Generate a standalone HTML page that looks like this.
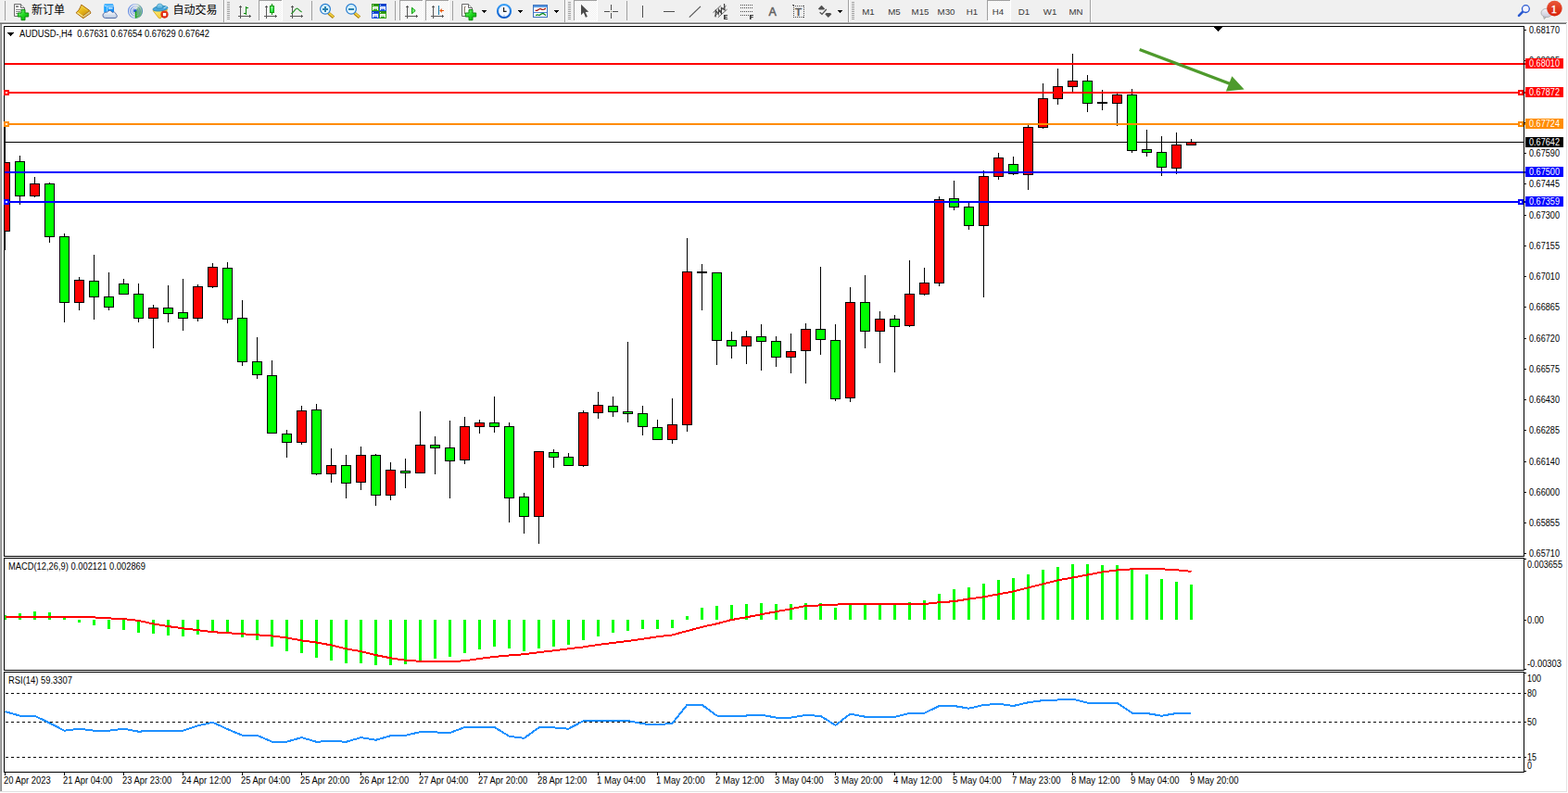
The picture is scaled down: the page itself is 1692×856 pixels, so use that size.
<!DOCTYPE html>
<html><head><meta charset="utf-8"><title>AUDUSD H4</title>
<style>html,body{margin:0;padding:0;background:#fff;overflow:hidden}body{width:1692px;height:856px}text{font-family:"Liberation Sans",sans-serif}</style></head>
<body>
<svg width="1692" height="856" viewBox="0 0 1692 856" font-family="Liberation Sans, sans-serif" style="display:block">
<defs><pattern id="ck" width="2" height="2" patternUnits="userSpaceOnUse"><rect width="2" height="2" fill="#f0f0f0"/><rect width="1" height="1" fill="#fff"/><rect x="1" y="1" width="1" height="1" fill="#fff"/></pattern>

<linearGradient id="gp" x1="0" y1="0" x2="1" y2="1"><stop offset="0" stop-color="#8cf88c"/><stop offset="0.5" stop-color="#20d820"/><stop offset="1" stop-color="#00a800"/></linearGradient>
<linearGradient id="gp2" x1="0" y1="0" x2="0.4" y2="1"><stop offset="0" stop-color="#a8ffa8"/><stop offset="1" stop-color="#18e038"/></linearGradient>
<linearGradient id="gold" x1="0" y1="0" x2="0.6" y2="1"><stop offset="0" stop-color="#f8e060"/><stop offset="0.5" stop-color="#e8b818"/><stop offset="1" stop-color="#c08818"/></linearGradient>
<linearGradient id="srv" x1="0" y1="0" x2="1" y2="0"><stop offset="0" stop-color="#40b0ff"/><stop offset="0.3" stop-color="#10a0ff"/><stop offset="1" stop-color="#1888f0"/></linearGradient>
<linearGradient id="cld" x1="0" y1="0" x2="0" y2="1"><stop offset="0" stop-color="#ffffff"/><stop offset="1" stop-color="#b8c8e0"/></linearGradient>
<linearGradient id="sig" x1="0" y1="0" x2="1" y2="0"><stop offset="0" stop-color="#3a6ee0"/><stop offset="0.5" stop-color="#9ab4e8"/><stop offset="0.75" stop-color="#88b8a8"/><stop offset="1" stop-color="#3a78b8"/></linearGradient>
<linearGradient id="wedge" x1="0.2" y1="1" x2="0.8" y2="0"><stop offset="0" stop-color="#1c9c1c"/><stop offset="0.5" stop-color="#6cbc6c"/><stop offset="1" stop-color="#c4dcc4"/></linearGradient>
<linearGradient id="yel" x1="0" y1="0" x2="1" y2="1"><stop offset="0" stop-color="#fff080"/><stop offset="1" stop-color="#f0c020"/></linearGradient>
<linearGradient id="hat" x1="0" y1="0" x2="0" y2="1"><stop offset="0" stop-color="#9ad8f0"/><stop offset="1" stop-color="#48a8d8"/></linearGradient>
<linearGradient id="red" x1="0" y1="0" x2="0" y2="1"><stop offset="0" stop-color="#e83818"/><stop offset="1" stop-color="#d82008"/></linearGradient>
<linearGradient id="lens" x1="0" y1="0" x2="0" y2="1"><stop offset="0" stop-color="#c8ecfa"/><stop offset="1" stop-color="#eefaff"/></linearGradient>
<linearGradient id="clk" x1="0" y1="0" x2="0" y2="1"><stop offset="0" stop-color="#38a0f8"/><stop offset="1" stop-color="#0858c8"/></linearGradient>
<linearGradient id="bub" x1="0" y1="0" x2="0" y2="1"><stop offset="0" stop-color="#f4f4f8"/><stop offset="1" stop-color="#c8c8d8"/></linearGradient>
<linearGradient id="bdg" x1="0" y1="0" x2="0" y2="1"><stop offset="0" stop-color="#e8583a"/><stop offset="1" stop-color="#d82008"/></linearGradient>

</defs>
<g shape-rendering="crispEdges">
<rect x="0" y="0" width="1692" height="856" fill="#fff"/>
<rect x="0" y="0" width="1692" height="23" fill="#f0f0f0"/>
<rect x="0" y="23" width="1691" height="1" fill="#f6f6f6"/>
<rect x="0" y="24" width="1691" height="1" fill="#a6a6a6"/>
<rect x="0" y="25" width="1690" height="1" fill="#6e6e6e"/>
<rect x="0" y="26" width="1" height="828" fill="#a8a8a8"/>
<rect x="1" y="26" width="1" height="828" fill="#8c8c8c"/>
<rect x="1690" y="26" width="1" height="829" fill="#e4e4e4"/>
<rect x="0" y="854" width="1691" height="1" fill="#e0e0e0"/>
<rect x="4" y="28" width="1641" height="1" fill="#000"/>
<rect x="4" y="600" width="1641" height="1" fill="#000"/>
<rect x="4" y="28" width="1" height="573" fill="#000"/>
<rect x="1644" y="28" width="1" height="573" fill="#000"/>
<rect x="4" y="602" width="1641" height="1" fill="#000"/>
<rect x="4" y="723" width="1641" height="1" fill="#000"/>
<rect x="4" y="602" width="1" height="122" fill="#000"/>
<rect x="1644" y="602" width="1" height="122" fill="#000"/>
<rect x="4" y="725" width="1641" height="1" fill="#000"/>
<rect x="4" y="833" width="1641" height="1" fill="#000"/>
<rect x="4" y="725" width="1" height="109" fill="#000"/>
<rect x="1644" y="725" width="1" height="109" fill="#000"/>
</g>
<rect x="1645" y="32" width="2" height="1" fill="#000" shape-rendering="crispEdges"/>
<text x="1650" y="36" font-size="10" fill="#000" textLength="33" lengthAdjust="spacingAndGlyphs" xml:space="preserve">0.68170</text>
<rect x="1645" y="65" width="2" height="1" fill="#000" shape-rendering="crispEdges"/>
<text x="1650" y="69" font-size="10" fill="#000" textLength="33" lengthAdjust="spacingAndGlyphs" xml:space="preserve">0.68025</text>
<rect x="1645" y="99" width="2" height="1" fill="#000" shape-rendering="crispEdges"/>
<text x="1650" y="103" font-size="10" fill="#000" textLength="33" lengthAdjust="spacingAndGlyphs" xml:space="preserve">0.67880</text>
<rect x="1645" y="132" width="2" height="1" fill="#000" shape-rendering="crispEdges"/>
<text x="1650" y="136" font-size="10" fill="#000" textLength="33" lengthAdjust="spacingAndGlyphs" xml:space="preserve">0.67735</text>
<rect x="1645" y="165" width="2" height="1" fill="#000" shape-rendering="crispEdges"/>
<text x="1650" y="169" font-size="10" fill="#000" textLength="33" lengthAdjust="spacingAndGlyphs" xml:space="preserve">0.67590</text>
<rect x="1645" y="198" width="2" height="1" fill="#000" shape-rendering="crispEdges"/>
<text x="1650" y="202" font-size="10" fill="#000" textLength="33" lengthAdjust="spacingAndGlyphs" xml:space="preserve">0.67445</text>
<rect x="1645" y="232" width="2" height="1" fill="#000" shape-rendering="crispEdges"/>
<text x="1650" y="236" font-size="10" fill="#000" textLength="33" lengthAdjust="spacingAndGlyphs" xml:space="preserve">0.67300</text>
<rect x="1645" y="265" width="2" height="1" fill="#000" shape-rendering="crispEdges"/>
<text x="1650" y="269" font-size="10" fill="#000" textLength="33" lengthAdjust="spacingAndGlyphs" xml:space="preserve">0.67155</text>
<rect x="1645" y="298" width="2" height="1" fill="#000" shape-rendering="crispEdges"/>
<text x="1650" y="302" font-size="10" fill="#000" textLength="33" lengthAdjust="spacingAndGlyphs" xml:space="preserve">0.67010</text>
<rect x="1645" y="331" width="2" height="1" fill="#000" shape-rendering="crispEdges"/>
<text x="1650" y="335" font-size="10" fill="#000" textLength="33" lengthAdjust="spacingAndGlyphs" xml:space="preserve">0.66865</text>
<rect x="1645" y="365" width="2" height="1" fill="#000" shape-rendering="crispEdges"/>
<text x="1650" y="369" font-size="10" fill="#000" textLength="33" lengthAdjust="spacingAndGlyphs" xml:space="preserve">0.66720</text>
<rect x="1645" y="398" width="2" height="1" fill="#000" shape-rendering="crispEdges"/>
<text x="1650" y="402" font-size="10" fill="#000" textLength="33" lengthAdjust="spacingAndGlyphs" xml:space="preserve">0.66575</text>
<rect x="1645" y="431" width="2" height="1" fill="#000" shape-rendering="crispEdges"/>
<text x="1650" y="435" font-size="10" fill="#000" textLength="33" lengthAdjust="spacingAndGlyphs" xml:space="preserve">0.66430</text>
<rect x="1645" y="464" width="2" height="1" fill="#000" shape-rendering="crispEdges"/>
<text x="1650" y="468" font-size="10" fill="#000" textLength="33" lengthAdjust="spacingAndGlyphs" xml:space="preserve">0.66285</text>
<rect x="1645" y="498" width="2" height="1" fill="#000" shape-rendering="crispEdges"/>
<text x="1650" y="502" font-size="10" fill="#000" textLength="33" lengthAdjust="spacingAndGlyphs" xml:space="preserve">0.66140</text>
<rect x="1645" y="531" width="2" height="1" fill="#000" shape-rendering="crispEdges"/>
<text x="1650" y="535" font-size="10" fill="#000" textLength="33" lengthAdjust="spacingAndGlyphs" xml:space="preserve">0.66000</text>
<rect x="1645" y="564" width="2" height="1" fill="#000" shape-rendering="crispEdges"/>
<text x="1650" y="568" font-size="10" fill="#000" textLength="33" lengthAdjust="spacingAndGlyphs" xml:space="preserve">0.65855</text>
<rect x="1645" y="597" width="2" height="1" fill="#000" shape-rendering="crispEdges"/>
<text x="1650" y="601" font-size="10" fill="#000" textLength="33" lengthAdjust="spacingAndGlyphs" xml:space="preserve">0.65710</text>
<g shape-rendering="crispEdges">
<clipPath id="cm"><rect x="5" y="29" width="1639" height="571"/></clipPath><g clip-path="url(#cm)">
<rect x="5" y="153" width="1639" height="1" fill="#000"/>
<rect x="5" y="134" width="1" height="136" fill="#000"/>
<rect x="0" y="175" width="11" height="75" fill="#000"/>
<rect x="1" y="176" width="9" height="73" fill="#f00"/>
<rect x="21" y="168" width="1" height="53" fill="#000"/>
<rect x="16" y="174" width="11" height="38" fill="#000"/>
<rect x="17" y="175" width="9" height="36" fill="#0f0"/>
<rect x="37" y="191" width="1" height="22" fill="#000"/>
<rect x="32" y="198" width="11" height="14" fill="#000"/>
<rect x="33" y="199" width="9" height="12" fill="#f00"/>
<rect x="53" y="197" width="1" height="65" fill="#000"/>
<rect x="48" y="198" width="11" height="58" fill="#000"/>
<rect x="49" y="199" width="9" height="56" fill="#0f0"/>
<rect x="69" y="252" width="1" height="96" fill="#000"/>
<rect x="64" y="255" width="11" height="72" fill="#000"/>
<rect x="65" y="256" width="9" height="70" fill="#0f0"/>
<rect x="85" y="299" width="1" height="36" fill="#000"/>
<rect x="80" y="302" width="11" height="25" fill="#000"/>
<rect x="81" y="303" width="9" height="23" fill="#f00"/>
<rect x="101" y="275" width="1" height="70" fill="#000"/>
<rect x="96" y="303" width="11" height="18" fill="#000"/>
<rect x="97" y="304" width="9" height="16" fill="#0f0"/>
<rect x="117" y="294" width="1" height="41" fill="#000"/>
<rect x="112" y="320" width="11" height="12" fill="#000"/>
<rect x="113" y="321" width="9" height="10" fill="#0f0"/>
<rect x="133" y="301" width="1" height="17" fill="#000"/>
<rect x="128" y="306" width="11" height="12" fill="#000"/>
<rect x="129" y="307" width="9" height="10" fill="#0f0"/>
<rect x="149" y="306" width="1" height="42" fill="#000"/>
<rect x="144" y="317" width="11" height="27" fill="#000"/>
<rect x="145" y="318" width="9" height="25" fill="#0f0"/>
<rect x="165" y="329" width="1" height="47" fill="#000"/>
<rect x="160" y="332" width="11" height="12" fill="#000"/>
<rect x="161" y="333" width="9" height="10" fill="#f00"/>
<rect x="181" y="308" width="1" height="40" fill="#000"/>
<rect x="176" y="332" width="11" height="7" fill="#000"/>
<rect x="177" y="333" width="9" height="5" fill="#0f0"/>
<rect x="197" y="301" width="1" height="56" fill="#000"/>
<rect x="192" y="337" width="11" height="7" fill="#000"/>
<rect x="193" y="338" width="9" height="5" fill="#0f0"/>
<rect x="213" y="307" width="1" height="40" fill="#000"/>
<rect x="208" y="309" width="11" height="35" fill="#000"/>
<rect x="209" y="310" width="9" height="33" fill="#f00"/>
<rect x="229" y="284" width="1" height="27" fill="#000"/>
<rect x="224" y="288" width="11" height="22" fill="#000"/>
<rect x="225" y="289" width="9" height="20" fill="#f00"/>
<rect x="245" y="283" width="1" height="66" fill="#000"/>
<rect x="240" y="289" width="11" height="56" fill="#000"/>
<rect x="241" y="290" width="9" height="54" fill="#0f0"/>
<rect x="261" y="324" width="1" height="71" fill="#000"/>
<rect x="256" y="343" width="11" height="48" fill="#000"/>
<rect x="257" y="344" width="9" height="46" fill="#0f0"/>
<rect x="277" y="364" width="1" height="45" fill="#000"/>
<rect x="272" y="390" width="11" height="15" fill="#000"/>
<rect x="273" y="391" width="9" height="13" fill="#0f0"/>
<rect x="293" y="389" width="1" height="79" fill="#000"/>
<rect x="288" y="405" width="11" height="63" fill="#000"/>
<rect x="289" y="406" width="9" height="61" fill="#0f0"/>
<rect x="309" y="464" width="1" height="30" fill="#000"/>
<rect x="304" y="468" width="11" height="10" fill="#000"/>
<rect x="305" y="469" width="9" height="8" fill="#0f0"/>
<rect x="325" y="438" width="1" height="42" fill="#000"/>
<rect x="320" y="443" width="11" height="35" fill="#000"/>
<rect x="321" y="444" width="9" height="33" fill="#f00"/>
<rect x="341" y="436" width="1" height="77" fill="#000"/>
<rect x="336" y="442" width="11" height="70" fill="#000"/>
<rect x="337" y="443" width="9" height="68" fill="#0f0"/>
<rect x="357" y="484" width="1" height="37" fill="#000"/>
<rect x="352" y="502" width="11" height="10" fill="#000"/>
<rect x="353" y="503" width="9" height="8" fill="#f00"/>
<rect x="373" y="491" width="1" height="47" fill="#000"/>
<rect x="368" y="502" width="11" height="20" fill="#000"/>
<rect x="369" y="503" width="9" height="18" fill="#0f0"/>
<rect x="389" y="482" width="1" height="47" fill="#000"/>
<rect x="384" y="491" width="11" height="30" fill="#000"/>
<rect x="385" y="492" width="9" height="28" fill="#f00"/>
<rect x="405" y="490" width="1" height="56" fill="#000"/>
<rect x="400" y="491" width="11" height="44" fill="#000"/>
<rect x="401" y="492" width="9" height="42" fill="#0f0"/>
<rect x="421" y="499" width="1" height="41" fill="#000"/>
<rect x="416" y="507" width="11" height="28" fill="#000"/>
<rect x="417" y="508" width="9" height="26" fill="#f00"/>
<rect x="437" y="495" width="1" height="32" fill="#000"/>
<rect x="432" y="508" width="11" height="3" fill="#000"/>
<rect x="433" y="509" width="9" height="1" fill="#0f0"/>
<rect x="453" y="444" width="1" height="67" fill="#000"/>
<rect x="448" y="480" width="11" height="31" fill="#000"/>
<rect x="449" y="481" width="9" height="29" fill="#f00"/>
<rect x="469" y="471" width="1" height="41" fill="#000"/>
<rect x="464" y="480" width="11" height="4" fill="#000"/>
<rect x="465" y="481" width="9" height="2" fill="#0f0"/>
<rect x="485" y="454" width="1" height="84" fill="#000"/>
<rect x="480" y="483" width="11" height="15" fill="#000"/>
<rect x="481" y="484" width="9" height="13" fill="#0f0"/>
<rect x="501" y="450" width="1" height="51" fill="#000"/>
<rect x="496" y="460" width="11" height="37" fill="#000"/>
<rect x="497" y="461" width="9" height="35" fill="#f00"/>
<rect x="517" y="453" width="1" height="15" fill="#000"/>
<rect x="512" y="456" width="11" height="5" fill="#000"/>
<rect x="513" y="457" width="9" height="3" fill="#f00"/>
<rect x="533" y="428" width="1" height="39" fill="#000"/>
<rect x="528" y="456" width="11" height="5" fill="#000"/>
<rect x="529" y="457" width="9" height="3" fill="#0f0"/>
<rect x="549" y="456" width="1" height="108" fill="#000"/>
<rect x="544" y="460" width="11" height="78" fill="#000"/>
<rect x="545" y="461" width="9" height="76" fill="#0f0"/>
<rect x="565" y="532" width="1" height="44" fill="#000"/>
<rect x="560" y="536" width="11" height="22" fill="#000"/>
<rect x="561" y="537" width="9" height="20" fill="#0f0"/>
<rect x="581" y="487" width="1" height="100" fill="#000"/>
<rect x="576" y="487" width="11" height="71" fill="#000"/>
<rect x="577" y="488" width="9" height="69" fill="#f00"/>
<rect x="597" y="485" width="1" height="20" fill="#000"/>
<rect x="592" y="488" width="11" height="6" fill="#000"/>
<rect x="593" y="489" width="9" height="4" fill="#0f0"/>
<rect x="613" y="489" width="1" height="14" fill="#000"/>
<rect x="608" y="493" width="11" height="10" fill="#000"/>
<rect x="609" y="494" width="9" height="8" fill="#0f0"/>
<rect x="629" y="443" width="1" height="61" fill="#000"/>
<rect x="624" y="445" width="11" height="58" fill="#000"/>
<rect x="625" y="446" width="9" height="56" fill="#f00"/>
<rect x="645" y="423" width="1" height="29" fill="#000"/>
<rect x="640" y="437" width="11" height="9" fill="#000"/>
<rect x="641" y="438" width="9" height="7" fill="#f00"/>
<rect x="661" y="428" width="1" height="22" fill="#000"/>
<rect x="656" y="438" width="11" height="7" fill="#000"/>
<rect x="657" y="439" width="9" height="5" fill="#0f0"/>
<rect x="677" y="369" width="1" height="87" fill="#000"/>
<rect x="672" y="444" width="11" height="3" fill="#000"/>
<rect x="673" y="445" width="9" height="1" fill="#0f0"/>
<rect x="693" y="438" width="1" height="32" fill="#000"/>
<rect x="688" y="446" width="11" height="15" fill="#000"/>
<rect x="689" y="447" width="9" height="13" fill="#0f0"/>
<rect x="709" y="453" width="1" height="22" fill="#000"/>
<rect x="704" y="461" width="11" height="14" fill="#000"/>
<rect x="705" y="462" width="9" height="12" fill="#0f0"/>
<rect x="725" y="430" width="1" height="49" fill="#000"/>
<rect x="720" y="458" width="11" height="17" fill="#000"/>
<rect x="721" y="459" width="9" height="15" fill="#f00"/>
<rect x="741" y="257" width="1" height="209" fill="#000"/>
<rect x="736" y="293" width="11" height="166" fill="#000"/>
<rect x="737" y="294" width="9" height="164" fill="#f00"/>
<rect x="757" y="285" width="1" height="50" fill="#000"/>
<rect x="752" y="293" width="11" height="2" fill="#000"/>
<rect x="773" y="294" width="1" height="100" fill="#000"/>
<rect x="768" y="294" width="11" height="74" fill="#000"/>
<rect x="769" y="295" width="9" height="72" fill="#0f0"/>
<rect x="789" y="358" width="1" height="29" fill="#000"/>
<rect x="784" y="367" width="11" height="7" fill="#000"/>
<rect x="785" y="368" width="9" height="5" fill="#0f0"/>
<rect x="805" y="357" width="1" height="36" fill="#000"/>
<rect x="800" y="363" width="11" height="11" fill="#000"/>
<rect x="801" y="364" width="9" height="9" fill="#f00"/>
<rect x="821" y="350" width="1" height="50" fill="#000"/>
<rect x="816" y="363" width="11" height="6" fill="#000"/>
<rect x="817" y="364" width="9" height="4" fill="#0f0"/>
<rect x="837" y="363" width="1" height="33" fill="#000"/>
<rect x="832" y="368" width="11" height="18" fill="#000"/>
<rect x="833" y="369" width="9" height="16" fill="#0f0"/>
<rect x="853" y="360" width="1" height="43" fill="#000"/>
<rect x="848" y="379" width="11" height="7" fill="#000"/>
<rect x="849" y="380" width="9" height="5" fill="#f00"/>
<rect x="869" y="349" width="1" height="65" fill="#000"/>
<rect x="864" y="355" width="11" height="24" fill="#000"/>
<rect x="865" y="356" width="9" height="22" fill="#f00"/>
<rect x="885" y="288" width="1" height="95" fill="#000"/>
<rect x="880" y="355" width="11" height="12" fill="#000"/>
<rect x="881" y="356" width="9" height="10" fill="#0f0"/>
<rect x="901" y="350" width="1" height="83" fill="#000"/>
<rect x="896" y="367" width="11" height="64" fill="#000"/>
<rect x="897" y="368" width="9" height="62" fill="#0f0"/>
<rect x="917" y="310" width="1" height="124" fill="#000"/>
<rect x="912" y="326" width="11" height="104" fill="#000"/>
<rect x="913" y="327" width="9" height="102" fill="#f00"/>
<rect x="933" y="297" width="1" height="79" fill="#000"/>
<rect x="928" y="326" width="11" height="32" fill="#000"/>
<rect x="929" y="327" width="9" height="30" fill="#0f0"/>
<rect x="949" y="336" width="1" height="56" fill="#000"/>
<rect x="944" y="344" width="11" height="14" fill="#000"/>
<rect x="945" y="345" width="9" height="12" fill="#f00"/>
<rect x="965" y="340" width="1" height="62" fill="#000"/>
<rect x="960" y="344" width="11" height="9" fill="#000"/>
<rect x="961" y="345" width="9" height="7" fill="#0f0"/>
<rect x="981" y="281" width="1" height="72" fill="#000"/>
<rect x="976" y="317" width="11" height="35" fill="#000"/>
<rect x="977" y="318" width="9" height="33" fill="#f00"/>
<rect x="997" y="289" width="1" height="30" fill="#000"/>
<rect x="992" y="305" width="11" height="13" fill="#000"/>
<rect x="993" y="306" width="9" height="11" fill="#f00"/>
<rect x="1013" y="212" width="1" height="97" fill="#000"/>
<rect x="1008" y="215" width="11" height="91" fill="#000"/>
<rect x="1009" y="216" width="9" height="89" fill="#f00"/>
<rect x="1029" y="195" width="1" height="32" fill="#000"/>
<rect x="1024" y="214" width="11" height="10" fill="#000"/>
<rect x="1025" y="215" width="9" height="8" fill="#0f0"/>
<rect x="1045" y="219" width="1" height="29" fill="#000"/>
<rect x="1040" y="223" width="11" height="21" fill="#000"/>
<rect x="1041" y="224" width="9" height="19" fill="#0f0"/>
<rect x="1061" y="184" width="1" height="137" fill="#000"/>
<rect x="1056" y="190" width="11" height="54" fill="#000"/>
<rect x="1057" y="191" width="9" height="52" fill="#f00"/>
<rect x="1077" y="165" width="1" height="29" fill="#000"/>
<rect x="1072" y="170" width="11" height="21" fill="#000"/>
<rect x="1073" y="171" width="9" height="19" fill="#f00"/>
<rect x="1093" y="169" width="1" height="20" fill="#000"/>
<rect x="1088" y="177" width="11" height="11" fill="#000"/>
<rect x="1089" y="178" width="9" height="9" fill="#0f0"/>
<rect x="1109" y="135" width="1" height="70" fill="#000"/>
<rect x="1104" y="137" width="11" height="52" fill="#000"/>
<rect x="1105" y="138" width="9" height="50" fill="#f00"/>
<rect x="1125" y="90" width="1" height="49" fill="#000"/>
<rect x="1120" y="106" width="11" height="32" fill="#000"/>
<rect x="1121" y="107" width="9" height="30" fill="#f00"/>
<rect x="1141" y="74" width="1" height="39" fill="#000"/>
<rect x="1136" y="93" width="11" height="14" fill="#000"/>
<rect x="1137" y="94" width="9" height="12" fill="#f00"/>
<rect x="1157" y="58" width="1" height="41" fill="#000"/>
<rect x="1152" y="87" width="11" height="7" fill="#000"/>
<rect x="1153" y="88" width="9" height="5" fill="#f00"/>
<rect x="1173" y="81" width="1" height="40" fill="#000"/>
<rect x="1168" y="87" width="11" height="25" fill="#000"/>
<rect x="1169" y="88" width="9" height="23" fill="#0f0"/>
<rect x="1189" y="97" width="1" height="22" fill="#000"/>
<rect x="1184" y="110" width="11" height="2" fill="#000"/>
<rect x="1205" y="101" width="1" height="35" fill="#000"/>
<rect x="1200" y="102" width="11" height="10" fill="#000"/>
<rect x="1201" y="103" width="9" height="8" fill="#f00"/>
<rect x="1221" y="96" width="1" height="69" fill="#000"/>
<rect x="1216" y="102" width="11" height="61" fill="#000"/>
<rect x="1217" y="103" width="9" height="59" fill="#0f0"/>
<rect x="1237" y="140" width="1" height="29" fill="#000"/>
<rect x="1232" y="161" width="11" height="4" fill="#000"/>
<rect x="1233" y="162" width="9" height="2" fill="#0f0"/>
<rect x="1253" y="147" width="1" height="43" fill="#000"/>
<rect x="1248" y="164" width="11" height="17" fill="#000"/>
<rect x="1249" y="165" width="9" height="15" fill="#0f0"/>
<rect x="1269" y="143" width="1" height="45" fill="#000"/>
<rect x="1264" y="156" width="11" height="26" fill="#000"/>
<rect x="1265" y="157" width="9" height="24" fill="#f00"/>
<rect x="1285" y="150" width="1" height="7" fill="#000"/>
<rect x="1280" y="153" width="11" height="4" fill="#000"/>
<rect x="1281" y="154" width="9" height="2" fill="#f00"/>
</g>
<rect x="5" y="68" width="1639" height="2" fill="#f00"/>
<rect x="1645" y="68" width="1" height="2" fill="#f00"/>
<rect x="1646" y="63" width="41" height="11" fill="#f00"/>
<rect x="5" y="99" width="1639" height="2" fill="#f00"/>
<rect x="1645" y="99" width="1" height="2" fill="#f00"/>
<rect x="1646" y="94" width="41" height="11" fill="#f00"/>
<rect x="4" y="97" width="6" height="6" fill="#f00"/>
<rect x="6" y="99" width="2" height="2" fill="#fff"/>
<rect x="1638" y="97" width="6" height="6" fill="#f00"/>
<rect x="1640" y="99" width="2" height="2" fill="#fff"/>
<rect x="5" y="133" width="1639" height="2" fill="#ff8c00"/>
<rect x="1645" y="133" width="1" height="2" fill="#ff8c00"/>
<rect x="1646" y="128" width="41" height="11" fill="#ff8c00"/>
<rect x="4" y="131" width="6" height="6" fill="#ff8c00"/>
<rect x="6" y="133" width="2" height="2" fill="#fff"/>
<rect x="1638" y="131" width="6" height="6" fill="#ff8c00"/>
<rect x="1640" y="133" width="2" height="2" fill="#fff"/>
<rect x="5" y="185" width="1639" height="2" fill="#00f"/>
<rect x="1645" y="185" width="1" height="2" fill="#00f"/>
<rect x="1646" y="180" width="41" height="11" fill="#00f"/>
<rect x="5" y="217" width="1639" height="2" fill="#00f"/>
<rect x="1645" y="217" width="1" height="2" fill="#00f"/>
<rect x="1646" y="212" width="41" height="11" fill="#00f"/>
<rect x="4" y="215" width="6" height="6" fill="#00f"/>
<rect x="6" y="217" width="2" height="2" fill="#fff"/>
<rect x="1638" y="215" width="6" height="6" fill="#00f"/>
<rect x="1640" y="217" width="2" height="2" fill="#fff"/>
<rect x="1646" y="148" width="41" height="11" fill="#000"/>
<rect x="1310" y="29" width="9" height="1" fill="#000"/>
<rect x="1311" y="30" width="7" height="1" fill="#000"/>
<rect x="1312" y="31" width="5" height="1" fill="#000"/>
<rect x="1313" y="32" width="3" height="1" fill="#000"/>
<rect x="1314" y="33" width="1" height="1" fill="#000"/>
</g>
<text x="1650" y="72" font-size="10" fill="#fff" textLength="33" lengthAdjust="spacingAndGlyphs" xml:space="preserve">0.68010</text>
<text x="1650" y="103" font-size="10" fill="#fff" textLength="33" lengthAdjust="spacingAndGlyphs" xml:space="preserve">0.67872</text>
<text x="1650" y="137" font-size="10" fill="#fff" textLength="33" lengthAdjust="spacingAndGlyphs" xml:space="preserve">0.67724</text>
<text x="1650" y="189" font-size="10" fill="#fff" textLength="33" lengthAdjust="spacingAndGlyphs" xml:space="preserve">0.67500</text>
<text x="1650" y="221" font-size="10" fill="#fff" textLength="33" lengthAdjust="spacingAndGlyphs" xml:space="preserve">0.67359</text>
<text x="1650" y="157" font-size="10" fill="#fff" textLength="33" lengthAdjust="spacingAndGlyphs" xml:space="preserve">0.67642</text>
<g fill="#4e9a2c" stroke="none"><path d="M1229.1,54.9 L1230.3,52.1 L1328,89 L1326.8,91.9 Z"/><path d="M1329.4,82.2 L1342.6,96.4 L1322.9,98.4 Z"/></g>
<path d="M8,35 h7 l-3.5,4 z" fill="#000" shape-rendering="crispEdges"/>
<text x="21" y="40" font-size="10" fill="#000" textLength="205" lengthAdjust="spacingAndGlyphs" xml:space="preserve">AUDUSD-,H4  0.67631 0.67654 0.67629 0.67642</text>
<g shape-rendering="crispEdges">
<rect x="5" y="664" width="2" height="5" fill="#0f0"/>
<rect x="20" y="662" width="3" height="7" fill="#0f0"/>
<rect x="36" y="660" width="3" height="9" fill="#0f0"/>
<rect x="52" y="661" width="3" height="8" fill="#0f0"/>
<rect x="68" y="667" width="3" height="2" fill="#0f0"/>
<rect x="84" y="669" width="3" height="3" fill="#0f0"/>
<rect x="100" y="669" width="3" height="6" fill="#0f0"/>
<rect x="116" y="669" width="3" height="10" fill="#0f0"/>
<rect x="132" y="669" width="3" height="11" fill="#0f0"/>
<rect x="148" y="669" width="3" height="14" fill="#0f0"/>
<rect x="164" y="669" width="3" height="15" fill="#0f0"/>
<rect x="180" y="669" width="3" height="17" fill="#0f0"/>
<rect x="196" y="669" width="3" height="18" fill="#0f0"/>
<rect x="212" y="669" width="3" height="16" fill="#0f0"/>
<rect x="228" y="669" width="3" height="13" fill="#0f0"/>
<rect x="244" y="669" width="3" height="14" fill="#0f0"/>
<rect x="260" y="669" width="3" height="19" fill="#0f0"/>
<rect x="276" y="669" width="3" height="22" fill="#0f0"/>
<rect x="292" y="669" width="3" height="29" fill="#0f0"/>
<rect x="308" y="669" width="3" height="34" fill="#0f0"/>
<rect x="324" y="669" width="3" height="36" fill="#0f0"/>
<rect x="340" y="669" width="3" height="41" fill="#0f0"/>
<rect x="356" y="669" width="3" height="44" fill="#0f0"/>
<rect x="372" y="669" width="3" height="47" fill="#0f0"/>
<rect x="388" y="669" width="3" height="47" fill="#0f0"/>
<rect x="404" y="669" width="3" height="49" fill="#0f0"/>
<rect x="420" y="669" width="3" height="49" fill="#0f0"/>
<rect x="436" y="669" width="3" height="48" fill="#0f0"/>
<rect x="452" y="669" width="3" height="45" fill="#0f0"/>
<rect x="468" y="669" width="3" height="42" fill="#0f0"/>
<rect x="484" y="669" width="3" height="40" fill="#0f0"/>
<rect x="500" y="669" width="3" height="36" fill="#0f0"/>
<rect x="516" y="669" width="3" height="32" fill="#0f0"/>
<rect x="532" y="669" width="3" height="29" fill="#0f0"/>
<rect x="548" y="669" width="3" height="31" fill="#0f0"/>
<rect x="564" y="669" width="3" height="34" fill="#0f0"/>
<rect x="580" y="669" width="3" height="31" fill="#0f0"/>
<rect x="596" y="669" width="3" height="29" fill="#0f0"/>
<rect x="612" y="669" width="3" height="27" fill="#0f0"/>
<rect x="628" y="669" width="3" height="22" fill="#0f0"/>
<rect x="644" y="669" width="3" height="18" fill="#0f0"/>
<rect x="660" y="669" width="3" height="14" fill="#0f0"/>
<rect x="676" y="669" width="3" height="12" fill="#0f0"/>
<rect x="692" y="669" width="3" height="10" fill="#0f0"/>
<rect x="708" y="669" width="3" height="10" fill="#0f0"/>
<rect x="724" y="669" width="3" height="9" fill="#0f0"/>
<rect x="740" y="665" width="3" height="4" fill="#0f0"/>
<rect x="756" y="656" width="3" height="13" fill="#0f0"/>
<rect x="772" y="654" width="3" height="15" fill="#0f0"/>
<rect x="788" y="653" width="3" height="16" fill="#0f0"/>
<rect x="804" y="652" width="3" height="17" fill="#0f0"/>
<rect x="820" y="651" width="3" height="18" fill="#0f0"/>
<rect x="836" y="652" width="3" height="17" fill="#0f0"/>
<rect x="852" y="652" width="3" height="17" fill="#0f0"/>
<rect x="868" y="651" width="3" height="18" fill="#0f0"/>
<rect x="884" y="651" width="3" height="18" fill="#0f0"/>
<rect x="900" y="656" width="3" height="13" fill="#0f0"/>
<rect x="916" y="652" width="3" height="17" fill="#0f0"/>
<rect x="932" y="652" width="3" height="17" fill="#0f0"/>
<rect x="948" y="652" width="3" height="17" fill="#0f0"/>
<rect x="964" y="652" width="3" height="17" fill="#0f0"/>
<rect x="980" y="650" width="3" height="19" fill="#0f0"/>
<rect x="996" y="648" width="3" height="21" fill="#0f0"/>
<rect x="1012" y="641" width="3" height="28" fill="#0f0"/>
<rect x="1028" y="636" width="3" height="33" fill="#0f0"/>
<rect x="1044" y="634" width="3" height="35" fill="#0f0"/>
<rect x="1060" y="630" width="3" height="39" fill="#0f0"/>
<rect x="1076" y="626" width="3" height="43" fill="#0f0"/>
<rect x="1092" y="624" width="3" height="45" fill="#0f0"/>
<rect x="1108" y="620" width="3" height="49" fill="#0f0"/>
<rect x="1124" y="615" width="3" height="54" fill="#0f0"/>
<rect x="1140" y="612" width="3" height="57" fill="#0f0"/>
<rect x="1156" y="609" width="3" height="60" fill="#0f0"/>
<rect x="1172" y="609" width="3" height="60" fill="#0f0"/>
<rect x="1188" y="610" width="3" height="59" fill="#0f0"/>
<rect x="1204" y="610" width="3" height="59" fill="#0f0"/>
<rect x="1220" y="615" width="3" height="54" fill="#0f0"/>
<rect x="1236" y="620" width="3" height="49" fill="#0f0"/>
<rect x="1252" y="625" width="3" height="44" fill="#0f0"/>
<rect x="1268" y="628" width="3" height="41" fill="#0f0"/>
<rect x="1284" y="631" width="3" height="38" fill="#0f0"/>
<polyline points="5.5,666.0 21.5,666.0 37.5,666.0 53.5,666.0 69.5,666.0 85.5,666.0 101.5,666.4 117.5,667.4 133.5,668.1 149.5,669.9 165.5,673.4 181.5,676.1 197.5,678.3 213.5,680.2 229.5,682.2 245.5,683.2 261.5,684.3 277.5,685.3 293.5,686.5 309.5,688.4 325.5,691.4 341.5,693.5 357.5,696.4 373.5,700.3 389.5,703.2 405.5,707.1 421.5,710.3 437.5,712.8 453.5,713.8 469.5,713.8 485.5,713.8 501.5,713.4 517.5,710.9 533.5,708.9 549.5,707.5 565.5,706.2 581.5,704.2 597.5,702.3 613.5,700.3 629.5,698.4 645.5,696.0 661.5,694.0 677.5,692.0 693.5,689.7 709.5,687.3 725.5,685.4 741.5,681.1 757.5,676.8 773.5,673.3 789.5,669.0 805.5,666.3 821.5,663.2 837.5,660.2 853.5,657.3 869.5,654.0 885.5,653.4 901.5,652.6 917.5,652.0 933.5,652.0 949.5,652.0 965.5,652.1 981.5,652.1 997.5,652.1 1013.5,650.2 1029.5,649.2 1045.5,646.5 1061.5,644.3 1077.5,641.4 1093.5,638.5 1109.5,634.4 1125.5,630.3 1141.5,626.4 1157.5,623.5 1173.5,620.5 1189.5,617.4 1205.5,615.5 1221.5,614.3 1237.5,614.1 1253.5,614.3 1269.5,615.3 1285.5,616.8" fill="none" stroke="#f00" stroke-width="2" stroke-linejoin="round"/>
<rect x="1645" y="603" width="2" height="1" fill="#000"/>
<rect x="1645" y="669" width="2" height="1" fill="#000"/>
<rect x="1645" y="722" width="2" height="1" fill="#000"/>
</g>
<text x="9" y="615" font-size="10" fill="#000" textLength="148" lengthAdjust="spacingAndGlyphs" xml:space="preserve">MACD(12,26,9) 0.002121 0.002869</text>
<text x="1648" y="613" font-size="10" fill="#000" textLength="38" lengthAdjust="spacingAndGlyphs" xml:space="preserve">0.003655</text>
<text x="1648" y="673" font-size="10" fill="#000" textLength="18" lengthAdjust="spacingAndGlyphs" xml:space="preserve">0.00</text>
<text x="1648" y="720" font-size="10" fill="#000" textLength="37" lengthAdjust="spacingAndGlyphs" xml:space="preserve">-0.00303</text>
<g shape-rendering="crispEdges">
<line x1="6" y1="748.5" x2="1644" y2="748.5" stroke="#000" stroke-width="1" stroke-dasharray="3 3"/>
<line x1="6" y1="779.5" x2="1644" y2="779.5" stroke="#000" stroke-width="1" stroke-dasharray="3 3"/>
<line x1="6" y1="817.5" x2="1644" y2="817.5" stroke="#000" stroke-width="1" stroke-dasharray="3 3"/>
<polyline points="5.5,768.0 21.5,772.7 37.5,772.7 53.5,780.5 69.5,788.7 85.5,786.7 101.5,788.7 117.5,788.7 133.5,786.7 149.5,789.7 165.5,788.7 181.5,788.7 197.5,788.7 213.5,783.4 229.5,779.7 245.5,787.1 261.5,793.8 277.5,793.8 293.5,800.6 309.5,800.6 325.5,796.1 341.5,800.8 357.5,799.8 373.5,800.8 389.5,796.1 405.5,798.8 421.5,794.2 437.5,793.8 453.5,790.1 469.5,790.4 485.5,791.0 501.5,785.0 517.5,785.0 533.5,785.0 549.5,794.7 565.5,796.9 581.5,785.4 597.5,785.4 613.5,786.7 629.5,778.2 645.5,777.9 661.5,778.0 677.5,778.0 693.5,781.3 709.5,782.4 725.5,780.7 741.5,760.8 757.5,760.8 773.5,772.5 789.5,772.5 805.5,772.5 821.5,771.7 837.5,774.6 853.5,774.6 869.5,771.9 885.5,772.9 901.5,782.8 917.5,770.7 933.5,773.7 949.5,773.7 965.5,773.8 981.5,769.8 997.5,769.8 1013.5,762.0 1029.5,762.0 1045.5,764.7 1061.5,761.0 1077.5,759.8 1093.5,762.0 1109.5,758.3 1125.5,756.1 1141.5,755.5 1157.5,754.6 1173.5,758.7 1189.5,758.7 1205.5,758.7 1221.5,769.6 1237.5,770.0 1253.5,772.7 1269.5,770.0 1285.5,769.8" fill="none" stroke="#1e90ff" stroke-width="2" stroke-linejoin="round"/>
<rect x="1645" y="726" width="2" height="1" fill="#000"/>
<rect x="1645" y="748" width="2" height="1" fill="#000"/>
<rect x="1645" y="779" width="2" height="1" fill="#000"/>
<rect x="1645" y="817" width="2" height="1" fill="#000"/>
<rect x="1645" y="832" width="2" height="1" fill="#000"/>
<rect x="5" y="834" width="1" height="3" fill="#000"/>
<rect x="69" y="834" width="1" height="3" fill="#000"/>
<rect x="133" y="834" width="1" height="3" fill="#000"/>
<rect x="197" y="834" width="1" height="3" fill="#000"/>
<rect x="261" y="834" width="1" height="3" fill="#000"/>
<rect x="325" y="834" width="1" height="3" fill="#000"/>
<rect x="389" y="834" width="1" height="3" fill="#000"/>
<rect x="453" y="834" width="1" height="3" fill="#000"/>
<rect x="517" y="834" width="1" height="3" fill="#000"/>
<rect x="581" y="834" width="1" height="3" fill="#000"/>
<rect x="645" y="834" width="1" height="3" fill="#000"/>
<rect x="709" y="834" width="1" height="3" fill="#000"/>
<rect x="773" y="834" width="1" height="3" fill="#000"/>
<rect x="837" y="834" width="1" height="3" fill="#000"/>
<rect x="901" y="834" width="1" height="3" fill="#000"/>
<rect x="965" y="834" width="1" height="3" fill="#000"/>
<rect x="1029" y="834" width="1" height="3" fill="#000"/>
<rect x="1093" y="834" width="1" height="3" fill="#000"/>
<rect x="1157" y="834" width="1" height="3" fill="#000"/>
<rect x="1221" y="834" width="1" height="3" fill="#000"/>
<rect x="1285" y="834" width="1" height="3" fill="#000"/>
</g>
<text x="9" y="738" font-size="10" fill="#000" textLength="69" lengthAdjust="spacingAndGlyphs" xml:space="preserve">RSI(14) 59.3307</text>
<text x="1648" y="736" font-size="10" fill="#000" textLength="15" lengthAdjust="spacingAndGlyphs" xml:space="preserve">100</text>
<text x="1648" y="752" font-size="10" fill="#000" textLength="10" lengthAdjust="spacingAndGlyphs" xml:space="preserve">80</text>
<text x="1648" y="783" font-size="10" fill="#000" textLength="10" lengthAdjust="spacingAndGlyphs" xml:space="preserve">50</text>
<text x="1648" y="821" font-size="10" fill="#000" textLength="10" lengthAdjust="spacingAndGlyphs" xml:space="preserve">15</text>
<text x="1648" y="830" font-size="10" fill="#000" textLength="5" lengthAdjust="spacingAndGlyphs" xml:space="preserve">0</text>
<text x="4" y="846" font-size="10" fill="#000" textLength="50.8" lengthAdjust="spacingAndGlyphs" xml:space="preserve">20 Apr 2023</text>
<text x="68" y="846" font-size="10" fill="#000" textLength="53.3" lengthAdjust="spacingAndGlyphs" xml:space="preserve">21 Apr 04:00</text>
<text x="132" y="846" font-size="10" fill="#000" textLength="53.3" lengthAdjust="spacingAndGlyphs" xml:space="preserve">23 Apr 23:00</text>
<text x="196" y="846" font-size="10" fill="#000" textLength="53.3" lengthAdjust="spacingAndGlyphs" xml:space="preserve">24 Apr 12:00</text>
<text x="260" y="846" font-size="10" fill="#000" textLength="53.3" lengthAdjust="spacingAndGlyphs" xml:space="preserve">25 Apr 04:00</text>
<text x="324" y="846" font-size="10" fill="#000" textLength="53.3" lengthAdjust="spacingAndGlyphs" xml:space="preserve">25 Apr 20:00</text>
<text x="388" y="846" font-size="10" fill="#000" textLength="53.3" lengthAdjust="spacingAndGlyphs" xml:space="preserve">26 Apr 12:00</text>
<text x="452" y="846" font-size="10" fill="#000" textLength="53.3" lengthAdjust="spacingAndGlyphs" xml:space="preserve">27 Apr 04:00</text>
<text x="516" y="846" font-size="10" fill="#000" textLength="53.3" lengthAdjust="spacingAndGlyphs" xml:space="preserve">27 Apr 20:00</text>
<text x="580" y="846" font-size="10" fill="#000" textLength="53.3" lengthAdjust="spacingAndGlyphs" xml:space="preserve">28 Apr 12:00</text>
<text x="644" y="846" font-size="10" fill="#000" textLength="52.6" lengthAdjust="spacingAndGlyphs" xml:space="preserve">1 May 04:00</text>
<text x="708" y="846" font-size="10" fill="#000" textLength="52.6" lengthAdjust="spacingAndGlyphs" xml:space="preserve">1 May 20:00</text>
<text x="772" y="846" font-size="10" fill="#000" textLength="52.6" lengthAdjust="spacingAndGlyphs" xml:space="preserve">2 May 12:00</text>
<text x="836" y="846" font-size="10" fill="#000" textLength="52.6" lengthAdjust="spacingAndGlyphs" xml:space="preserve">3 May 04:00</text>
<text x="900" y="846" font-size="10" fill="#000" textLength="52.6" lengthAdjust="spacingAndGlyphs" xml:space="preserve">3 May 20:00</text>
<text x="964" y="846" font-size="10" fill="#000" textLength="52.6" lengthAdjust="spacingAndGlyphs" xml:space="preserve">4 May 12:00</text>
<text x="1028" y="846" font-size="10" fill="#000" textLength="52.6" lengthAdjust="spacingAndGlyphs" xml:space="preserve">5 May 04:00</text>
<text x="1092" y="846" font-size="10" fill="#000" textLength="52.6" lengthAdjust="spacingAndGlyphs" xml:space="preserve">7 May 23:00</text>
<text x="1156" y="846" font-size="10" fill="#000" textLength="52.6" lengthAdjust="spacingAndGlyphs" xml:space="preserve">8 May 12:00</text>
<text x="1220" y="846" font-size="10" fill="#000" textLength="52.6" lengthAdjust="spacingAndGlyphs" xml:space="preserve">9 May 04:00</text>
<text x="1284" y="846" font-size="10" fill="#000" textLength="52.6" lengthAdjust="spacingAndGlyphs" xml:space="preserve">9 May 20:00</text>
<rect x="5" y="1" width="1" height="21" fill="#a0a0a0" shape-rendering="crispEdges"/>
<g><path d="M15.5,4.5 h7 l4,4 v9 h-11 z" fill="#fff" stroke="#6a6a6a" stroke-width="1" stroke-linejoin="round"/><path d="M22.5,4.5 v4 h4" fill="#e8e8e8" stroke="#6a6a6a" stroke-width="1" stroke-linejoin="round"/>
<rect x="17" y="6" width="3" height="2" fill="#8a8a8a" shape-rendering="crispEdges"/>
<rect x="17" y="10" width="6" height="1" fill="#8a8a8a" shape-rendering="crispEdges"/>
<rect x="17" y="12" width="5" height="1" fill="#8a8a8a" shape-rendering="crispEdges"/>
<rect x="17" y="14" width="3" height="1" fill="#8a8a8a" shape-rendering="crispEdges"/>
<path d="M23,10.5 h4 v3.5 h3.7 v4 h-3.7 v3.7 h-4 v-3.7 h-3.7 v-4 h3.7 z" fill="url(#gp)" stroke="#0a8a0a" stroke-width="1" stroke-linejoin="round"/></g>
<text x="34" y="15.3" font-size="12" fill="#000" style="font-family:'Liberation Sans','Noto Sans CJK SC',sans-serif">新订单</text>
<g><path d="M87.8,5.1 L96.7,11.4 L98,14.1 L89.8,19.7 L82.1,13.8 Q85.6,10.8 86.6,8 Z" fill="url(#gold)" stroke="#a8680c" stroke-width="1" stroke-linejoin="round"/><path d="M96.5,12 L97.5,14 L89.9,19 L89.3,17.4 Z" fill="#dcca88"/><path d="M89.3,17.2 L96.4,11.8" stroke="#a8680c" stroke-width="0.7"/><path d="M83.4,13.4 L89.4,17.8" stroke="#fbe890" stroke-width="1.3"/><path d="M87.6,6.6 L94.6,11.4" stroke="#f8e060" stroke-width="0.8" opacity="0.7"/></g>
<g><path d="M112,5.7 L113,4.2 L121.6,4.3 L123,6.9 L123,13.5 L112,13.5 Z" fill="url(#srv)"/><path d="M112,5.7 L113,4.2 L121.6,4.3 L123,6.9 L115.6,7.2 Z" fill="#48b4ff"/><path d="M112.2,5.8 L115.6,7.2 L115.6,13.5 M115.6,7.2 L123,6.9" fill="none" stroke="#e0f4ff" stroke-width="0.7"/><rect x="117" y="8.3" width="4.6" height="1.3" fill="#e8f6ff"/><path d="M113.6,19.5 a2.9,2.9 0 0 1 -0.8,-5.6 a2.4,2.4 0 0 1 2.8,-0.6 a3,3 0 0 1 5.6,0.2 a2.4,2.4 0 0 1 3.8,1.8 a2.2,2.2 0 0 1 -1,4.2 z" fill="url(#cld)" stroke="#4a64a0" stroke-width="0.9"/></g>
<g fill="none"><path d="M146,12 L146.4,19.7 A7.7,7.7 0 0 0 150.6,5.8 Z" fill="url(#wedge)" opacity="0.9"/><circle cx="146" cy="12" r="7.5" stroke="url(#sig)" stroke-width="1.1" opacity="0.8"/><circle cx="146" cy="12" r="5.2" stroke="url(#sig)" stroke-width="1.1" opacity="0.8"/><circle cx="146" cy="12" r="3.1" stroke="url(#sig)" stroke-width="1" opacity="0.7"/><circle cx="145.8" cy="11.7" r="1.8" fill="#2255d4" stroke="none"/><path d="M146.5,12.2 L146.5,19.6" stroke="#1aa41a" stroke-width="1.5"/></g>
<g><path d="M165.2,11.6 L180.6,10.6 L173.2,19.8 L171.4,19.6 Z" fill="url(#yel)" stroke="#d4a000" stroke-width="0.8" stroke-linejoin="round"/><ellipse cx="173" cy="9.2" rx="8.1" ry="2.7" transform="rotate(-7 173 9.2)" fill="#48a6dc" stroke="#2a8ab8" stroke-width="0.8"/><path d="M169,8.9 C168.8,5.6 170.4,4.1 172.4,4.1 C174.4,4.1 175.9,5.4 175.9,8.2 C174,9.6 171,9.8 169,8.9 Z" fill="url(#hat)" stroke="#2a8ab8" stroke-width="0.7"/><path d="M176.6,9 L180,6.8" stroke="#e8f8ff" stroke-width="0.8" opacity="0.9"/><circle cx="177.5" cy="15.6" r="4.1" fill="url(#red)"/><rect x="175.9" y="14" width="3.3" height="3.3" fill="#fff"/></g>
<text x="186.6" y="15.3" font-size="12" fill="#000" style="font-family:'Liberation Sans','Noto Sans CJK SC',sans-serif">自动交易</text>
<rect x="241" y="0" width="1" height="24" fill="#a0a0a0" shape-rendering="crispEdges"/>
<rect x="242" y="0" width="1" height="24" fill="#fff" shape-rendering="crispEdges"/>
<rect x="245" y="2" width="3" height="1" fill="#a0a0a0" shape-rendering="crispEdges"/>
<rect x="245" y="4" width="3" height="1" fill="#a0a0a0" shape-rendering="crispEdges"/>
<rect x="245" y="6" width="3" height="1" fill="#a0a0a0" shape-rendering="crispEdges"/>
<rect x="245" y="8" width="3" height="1" fill="#a0a0a0" shape-rendering="crispEdges"/>
<rect x="245" y="10" width="3" height="1" fill="#a0a0a0" shape-rendering="crispEdges"/>
<rect x="245" y="12" width="3" height="1" fill="#a0a0a0" shape-rendering="crispEdges"/>
<rect x="245" y="14" width="3" height="1" fill="#a0a0a0" shape-rendering="crispEdges"/>
<rect x="245" y="16" width="3" height="1" fill="#a0a0a0" shape-rendering="crispEdges"/>
<rect x="245" y="18" width="3" height="1" fill="#a0a0a0" shape-rendering="crispEdges"/>
<rect x="245" y="20" width="3" height="1" fill="#a0a0a0" shape-rendering="crispEdges"/>
<rect x="259" y="6" width="1" height="14" fill="#585858" shape-rendering="crispEdges"/>
<rect x="258" y="7" width="3" height="1" fill="#585858" shape-rendering="crispEdges"/>
<rect x="257" y="17" width="14" height="1" fill="#585858" shape-rendering="crispEdges"/>
<rect x="269" y="16" width="1" height="3" fill="#585858" shape-rendering="crispEdges"/>
<rect x="265" y="7" width="1" height="9" fill="#0a8a0a" shape-rendering="crispEdges"/>
<rect x="266" y="8" width="2" height="1" fill="#0a8a0a" shape-rendering="crispEdges"/>
<rect x="263" y="14" width="2" height="1" fill="#0a8a0a" shape-rendering="crispEdges"/>
<rect x="264" y="8" width="2" height="8" fill="#0a8a0a" shape-rendering="crispEdges" opacity="0"/>
<rect x="280" y="1" width="24" height="21" fill="url(#ck)" shape-rendering="crispEdges"/>
<rect x="279" y="0" width="25" height="1" fill="#a0a0a0" shape-rendering="crispEdges"/>
<rect x="279" y="0" width="1" height="22" fill="#a0a0a0" shape-rendering="crispEdges"/>
<rect x="304" y="0" width="1" height="23" fill="#fff" shape-rendering="crispEdges"/>
<rect x="279" y="22" width="26" height="1" fill="#fff" shape-rendering="crispEdges"/>
<rect x="287" y="6" width="1" height="14" fill="#585858" shape-rendering="crispEdges"/>
<rect x="286" y="7" width="3" height="1" fill="#585858" shape-rendering="crispEdges"/>
<rect x="285" y="17" width="14" height="1" fill="#585858" shape-rendering="crispEdges"/>
<rect x="297" y="16" width="1" height="3" fill="#585858" shape-rendering="crispEdges"/>
<rect x="293" y="4" width="1" height="12" fill="#0a8a0a" shape-rendering="crispEdges"/>
<rect x="291.5" y="6.5" width="4" height="7" fill="url(#gp2)" stroke="#0a9a0a" stroke-width="1"/>
<rect x="315" y="6" width="1" height="14" fill="#585858" shape-rendering="crispEdges"/>
<rect x="314" y="7" width="3" height="1" fill="#585858" shape-rendering="crispEdges"/>
<rect x="313" y="17" width="14" height="1" fill="#585858" shape-rendering="crispEdges"/>
<rect x="325" y="16" width="1" height="3" fill="#585858" shape-rendering="crispEdges"/>
<path d="M314.2,14.8 C317,13.6 318.4,9.2 320.4,9.2 C322.2,9.2 323.4,12.4 325.8,13" fill="none" stroke="#2a962a" stroke-width="1.2"/>
<rect x="336" y="1" width="1" height="21" fill="#a0a0a0" shape-rendering="crispEdges"/>
<g><path d="M354.6,14.2 L360,18.8" stroke="#a87800" stroke-width="3.4" stroke-linecap="butt"/><path d="M354.8,14 L359.8,18.3" stroke="#f0d040" stroke-width="1.8"/><circle cx="351" cy="9.8" r="5.4" fill="url(#lens)" stroke="#2a7ed0" stroke-width="1.2"/>
<rect x="348" y="9" width="6" height="2" fill="#2a82b0" shape-rendering="crispEdges"/>
<rect x="350" y="7" width="2" height="6" fill="#2a82b0" shape-rendering="crispEdges"/>
</g>
<g><path d="M382.6,14.2 L388,18.8" stroke="#a87800" stroke-width="3.4" stroke-linecap="butt"/><path d="M382.8,14 L387.8,18.3" stroke="#f0d040" stroke-width="1.8"/><circle cx="379" cy="9.8" r="5.4" fill="url(#lens)" stroke="#2a7ed0" stroke-width="1.2"/>
<rect x="376" y="9" width="6" height="2" fill="#2a82b0" shape-rendering="crispEdges"/>
</g>
<rect x="401" y="4" width="8" height="8" fill="#38a818" shape-rendering="crispEdges"/>
<rect x="401" y="4" width="8" height="2" fill="#2a9010" shape-rendering="crispEdges"/>
<rect x="402" y="5" width="1" height="1" fill="#d8f0c8" shape-rendering="crispEdges"/>
<path d="M402,11 v-3.6 h6 v3.6 h-1 v-1.2 h-4 v1.2 z" fill="#fff" opacity="0.95" shape-rendering="crispEdges"/>
<rect x="403" y="8.6" width="4" height="0.8" fill="#2a9010" opacity="0.5"/>
<rect x="409" y="4" width="8" height="8" fill="#2058e0" shape-rendering="crispEdges"/>
<rect x="409" y="4" width="8" height="2" fill="#1040c8" shape-rendering="crispEdges"/>
<rect x="410" y="5" width="1" height="1" fill="#d0e8ff" shape-rendering="crispEdges"/>
<path d="M410,11 v-3.6 h6 v3.6 h-1 v-1.2 h-4 v1.2 z" fill="#fff" opacity="0.95" shape-rendering="crispEdges"/>
<rect x="411" y="8.6" width="4" height="0.8" fill="#1040c8" opacity="0.5"/>
<rect x="401" y="12" width="8" height="8" fill="#2058e0" shape-rendering="crispEdges"/>
<rect x="401" y="12" width="8" height="2" fill="#1040c8" shape-rendering="crispEdges"/>
<rect x="402" y="13" width="1" height="1" fill="#d0e8ff" shape-rendering="crispEdges"/>
<path d="M402,19 v-3.6 h6 v3.6 h-1 v-1.2 h-4 v1.2 z" fill="#fff" opacity="0.95" shape-rendering="crispEdges"/>
<rect x="403" y="16.6" width="4" height="0.8" fill="#1040c8" opacity="0.5"/>
<rect x="409" y="12" width="8" height="8" fill="#38a818" shape-rendering="crispEdges"/>
<rect x="409" y="12" width="8" height="2" fill="#2a9010" shape-rendering="crispEdges"/>
<rect x="410" y="13" width="1" height="1" fill="#d8f0c8" shape-rendering="crispEdges"/>
<path d="M410,19 v-3.6 h6 v3.6 h-1 v-1.2 h-4 v1.2 z" fill="#fff" opacity="0.95" shape-rendering="crispEdges"/>
<rect x="411" y="16.6" width="4" height="0.8" fill="#2a9010" opacity="0.5"/>
<rect x="426" y="1" width="1" height="21" fill="#a0a0a0" shape-rendering="crispEdges"/>
<rect x="432" y="1" width="24" height="21" fill="url(#ck)" shape-rendering="crispEdges"/>
<rect x="431" y="0" width="25" height="1" fill="#a0a0a0" shape-rendering="crispEdges"/>
<rect x="431" y="0" width="1" height="22" fill="#a0a0a0" shape-rendering="crispEdges"/>
<rect x="456" y="0" width="1" height="23" fill="#fff" shape-rendering="crispEdges"/>
<rect x="431" y="22" width="26" height="1" fill="#fff" shape-rendering="crispEdges"/>
<rect x="439" y="6" width="1" height="14" fill="#585858" shape-rendering="crispEdges"/>
<rect x="438" y="7" width="3" height="1" fill="#585858" shape-rendering="crispEdges"/>
<rect x="437" y="17" width="14" height="1" fill="#585858" shape-rendering="crispEdges"/>
<rect x="449" y="16" width="1" height="3" fill="#585858" shape-rendering="crispEdges"/>
<path d="M444.5,8.2 L448.2,11.5 L444.5,14.8 Z" fill="#78f878" stroke="#0a9a0a" stroke-width="1" stroke-linejoin="round"/>
<rect x="460" y="1" width="24" height="21" fill="url(#ck)" shape-rendering="crispEdges"/>
<rect x="459" y="0" width="25" height="1" fill="#a0a0a0" shape-rendering="crispEdges"/>
<rect x="459" y="0" width="1" height="22" fill="#a0a0a0" shape-rendering="crispEdges"/>
<rect x="484" y="0" width="1" height="23" fill="#fff" shape-rendering="crispEdges"/>
<rect x="459" y="22" width="26" height="1" fill="#fff" shape-rendering="crispEdges"/>
<rect x="467" y="6" width="1" height="14" fill="#585858" shape-rendering="crispEdges"/>
<rect x="466" y="7" width="3" height="1" fill="#585858" shape-rendering="crispEdges"/>
<rect x="465" y="17" width="14" height="1" fill="#585858" shape-rendering="crispEdges"/>
<rect x="477" y="16" width="1" height="3" fill="#585858" shape-rendering="crispEdges"/>
<rect x="473" y="6" width="1" height="10" fill="#1a78a8" shape-rendering="crispEdges"/>
<path d="M474.2,11.5 L477.2,9 L476.6,11 L479,11 L479,12 L476.6,12 L477.2,14 Z" fill="#e85000"/>
<rect x="488" y="1" width="1" height="21" fill="#a0a0a0" shape-rendering="crispEdges"/>
<g><path d="M498.5,4.5 h7 l4,4 v9 h-11 z" fill="#fff" stroke="#6a6a6a" stroke-width="1" stroke-linejoin="round"/><path d="M505.5,4.5 v4 h4" fill="#e8e8e8" stroke="#6a6a6a" stroke-width="1" stroke-linejoin="round"/><path d="M502.5,7 c-1.6,0 -1.2,2 -1.2,3 c0,1 -0.4,1.4 0,2.4 c0.2,1 -0.4,2.6 1.2,2.6" fill="none" stroke="#5a4a30" stroke-width="0.9"/><path d="M506,10.5 h4 v3.5 h3.7 v4 h-3.7 v3.7 h-4 v-3.7 h-3.7 v-4 h3.7 z" fill="url(#gp)" stroke="#0a8a0a" stroke-width="1" stroke-linejoin="round"/></g>
<path d="M520,11 h5 l-2.5,3 z" fill="#000" shape-rendering="crispEdges"/>
<g><circle cx="544" cy="12" r="7" fill="#fff" stroke="url(#clk)" stroke-width="2.2"/><circle cx="544" cy="12" r="5.6" fill="#f4f8ff" stroke="#b8d0f0" stroke-width="0.5"/><path d="M543.6,8 V12.4 H546.6" fill="none" stroke="#202020" stroke-width="1.2"/><path d="M544,16.4 v0.8" stroke="#4a90e0" stroke-width="1.4"/></g>
<path d="M559,11 h5 l-2.5,3 z" fill="#000" shape-rendering="crispEdges"/>
<g><rect x="575.5" y="5.5" width="15" height="13" fill="#fff" stroke="#3a72c0" stroke-width="1"/>
<rect x="576" y="6" width="14" height="2" fill="#5a9ae0" shape-rendering="crispEdges"/>
<rect x="576" y="13" width="14" height="1" fill="#4a82d0" shape-rendering="crispEdges"/>
<path d="M577.6,11.4 L579.6,11.4 L581.6,10 L583,9.4 L585,10.4 L587,10.2 L589,9.2" fill="none" stroke="#a81808" stroke-width="1.3"/><path d="M578,16.6 L580,16 L582,16.6 L584,15.2 L586,14.4 L587.6,15.6 L589,16.8" fill="none" stroke="#0a8a20" stroke-width="1.3"/></g>
<path d="M598,11 h5 l-2.5,3 z" fill="#000" shape-rendering="crispEdges"/>
<rect x="609" y="0" width="1" height="24" fill="#a0a0a0" shape-rendering="crispEdges"/>
<rect x="610" y="0" width="1" height="24" fill="#fff" shape-rendering="crispEdges"/>
<rect x="613" y="2" width="3" height="1" fill="#a0a0a0" shape-rendering="crispEdges"/>
<rect x="613" y="4" width="3" height="1" fill="#a0a0a0" shape-rendering="crispEdges"/>
<rect x="613" y="6" width="3" height="1" fill="#a0a0a0" shape-rendering="crispEdges"/>
<rect x="613" y="8" width="3" height="1" fill="#a0a0a0" shape-rendering="crispEdges"/>
<rect x="613" y="10" width="3" height="1" fill="#a0a0a0" shape-rendering="crispEdges"/>
<rect x="613" y="12" width="3" height="1" fill="#a0a0a0" shape-rendering="crispEdges"/>
<rect x="613" y="14" width="3" height="1" fill="#a0a0a0" shape-rendering="crispEdges"/>
<rect x="613" y="16" width="3" height="1" fill="#a0a0a0" shape-rendering="crispEdges"/>
<rect x="613" y="18" width="3" height="1" fill="#a0a0a0" shape-rendering="crispEdges"/>
<rect x="613" y="20" width="3" height="1" fill="#a0a0a0" shape-rendering="crispEdges"/>
<rect x="620" y="1" width="24" height="21" fill="url(#ck)" shape-rendering="crispEdges"/>
<rect x="619" y="0" width="25" height="1" fill="#a0a0a0" shape-rendering="crispEdges"/>
<rect x="619" y="0" width="1" height="22" fill="#a0a0a0" shape-rendering="crispEdges"/>
<rect x="644" y="0" width="1" height="23" fill="#fff" shape-rendering="crispEdges"/>
<rect x="619" y="22" width="26" height="1" fill="#fff" shape-rendering="crispEdges"/>
<path d="M627,4.8 L627,16.2 L629.8,13.6 L631.9,18.8 L633.9,18 L631.7,13 L635.2,12.8 Z" fill="#4a4a4a"/>
<rect x="659" y="5" width="1" height="6" fill="#505050" shape-rendering="crispEdges"/>
<rect x="659" y="14" width="1" height="6" fill="#505050" shape-rendering="crispEdges"/>
<rect x="652" y="12" width="6" height="1" fill="#505050" shape-rendering="crispEdges"/>
<rect x="661" y="12" width="6" height="1" fill="#505050" shape-rendering="crispEdges"/>
<rect x="659" y="12" width="1" height="1" fill="#909070" shape-rendering="crispEdges"/>
<rect x="676" y="1" width="1" height="21" fill="#a0a0a0" shape-rendering="crispEdges"/>
<rect x="693" y="6" width="1" height="13" fill="#505050" shape-rendering="crispEdges"/>
<rect x="716" y="12" width="12" height="1" fill="#505050" shape-rendering="crispEdges"/>
<path d="M743.8,18.6 L756,6.8" stroke="#505050" stroke-width="1.1"/>
<g stroke="#505050" fill="none"><path d="M769.5,13.6 L777.8,6" stroke-width="0.9"/><path d="M770.8,17.6 L783.6,6.2" stroke-width="0.9"/><path d="M774.8,18.8 L784.6,10.1" stroke-width="0.9"/><path d="M772.1,18.4 L772.4,11.5 L775.2,15.4 L775.5,10.3 L778.4,14.3 L778.4,8.3 L782,10.8 L781.5,4" stroke="#404040" stroke-width="1.2" stroke-linejoin="miter"/></g>
<path d="M781,16 h4.1 v1.1 h-2.5 v0.9 h2.2 v1 h-2.2 v0.9 h2.6 v1.1 h-4.2 z" fill="#3a3a3a"/>
<rect x="799" y="5" width="1" height="1" fill="#505050" shape-rendering="crispEdges"/>
<rect x="801" y="5" width="1" height="1" fill="#505050" shape-rendering="crispEdges"/>
<rect x="803" y="5" width="1" height="1" fill="#505050" shape-rendering="crispEdges"/>
<rect x="805" y="5" width="1" height="1" fill="#505050" shape-rendering="crispEdges"/>
<rect x="807" y="5" width="1" height="1" fill="#505050" shape-rendering="crispEdges"/>
<rect x="809" y="5" width="1" height="1" fill="#505050" shape-rendering="crispEdges"/>
<rect x="811" y="5" width="1" height="1" fill="#505050" shape-rendering="crispEdges"/>
<rect x="799" y="8" width="1" height="1" fill="#505050" shape-rendering="crispEdges"/>
<rect x="801" y="8" width="1" height="1" fill="#505050" shape-rendering="crispEdges"/>
<rect x="803" y="8" width="1" height="1" fill="#505050" shape-rendering="crispEdges"/>
<rect x="805" y="8" width="1" height="1" fill="#505050" shape-rendering="crispEdges"/>
<rect x="807" y="8" width="1" height="1" fill="#505050" shape-rendering="crispEdges"/>
<rect x="809" y="8" width="1" height="1" fill="#505050" shape-rendering="crispEdges"/>
<rect x="811" y="8" width="1" height="1" fill="#505050" shape-rendering="crispEdges"/>
<rect x="799" y="12" width="1" height="1" fill="#505050" shape-rendering="crispEdges"/>
<rect x="801" y="12" width="1" height="1" fill="#505050" shape-rendering="crispEdges"/>
<rect x="803" y="12" width="1" height="1" fill="#505050" shape-rendering="crispEdges"/>
<rect x="805" y="12" width="1" height="1" fill="#505050" shape-rendering="crispEdges"/>
<rect x="807" y="12" width="1" height="1" fill="#505050" shape-rendering="crispEdges"/>
<rect x="809" y="12" width="1" height="1" fill="#505050" shape-rendering="crispEdges"/>
<rect x="811" y="12" width="1" height="1" fill="#505050" shape-rendering="crispEdges"/>
<rect x="799" y="16" width="1" height="1" fill="#505050" shape-rendering="crispEdges"/>
<rect x="801" y="16" width="1" height="1" fill="#505050" shape-rendering="crispEdges"/>
<rect x="803" y="16" width="1" height="1" fill="#505050" shape-rendering="crispEdges"/>
<rect x="805" y="16" width="1" height="1" fill="#505050" shape-rendering="crispEdges"/>
<rect x="807" y="16" width="1" height="1" fill="#505050" shape-rendering="crispEdges"/>
<path d="M809,16 h4 v1.1 h-2.4 v1 h2.1 v1 h-2.1 v1.9 h-1.6 z" fill="#3a3a3a"/>
<text x="829.4" y="16.8" font-size="12.4" fill="#606060" stroke="#606060" stroke-width="0.5">A</text>
<rect x="856" y="6" width="1" height="1" fill="#505050" shape-rendering="crispEdges"/>
<rect x="856" y="18" width="1" height="1" fill="#505050" shape-rendering="crispEdges"/>
<rect x="858" y="6" width="1" height="1" fill="#505050" shape-rendering="crispEdges"/>
<rect x="858" y="18" width="1" height="1" fill="#505050" shape-rendering="crispEdges"/>
<rect x="860" y="6" width="1" height="1" fill="#505050" shape-rendering="crispEdges"/>
<rect x="860" y="18" width="1" height="1" fill="#505050" shape-rendering="crispEdges"/>
<rect x="862" y="6" width="1" height="1" fill="#505050" shape-rendering="crispEdges"/>
<rect x="862" y="18" width="1" height="1" fill="#505050" shape-rendering="crispEdges"/>
<rect x="864" y="6" width="1" height="1" fill="#505050" shape-rendering="crispEdges"/>
<rect x="864" y="18" width="1" height="1" fill="#505050" shape-rendering="crispEdges"/>
<rect x="866" y="6" width="1" height="1" fill="#505050" shape-rendering="crispEdges"/>
<rect x="866" y="18" width="1" height="1" fill="#505050" shape-rendering="crispEdges"/>
<rect x="856" y="6" width="1" height="1" fill="#505050" shape-rendering="crispEdges"/>
<rect x="867" y="6" width="1" height="1" fill="#505050" shape-rendering="crispEdges"/>
<rect x="856" y="8" width="1" height="1" fill="#505050" shape-rendering="crispEdges"/>
<rect x="867" y="8" width="1" height="1" fill="#505050" shape-rendering="crispEdges"/>
<rect x="856" y="10" width="1" height="1" fill="#505050" shape-rendering="crispEdges"/>
<rect x="867" y="10" width="1" height="1" fill="#505050" shape-rendering="crispEdges"/>
<rect x="856" y="12" width="1" height="1" fill="#505050" shape-rendering="crispEdges"/>
<rect x="867" y="12" width="1" height="1" fill="#505050" shape-rendering="crispEdges"/>
<rect x="856" y="14" width="1" height="1" fill="#505050" shape-rendering="crispEdges"/>
<rect x="867" y="14" width="1" height="1" fill="#505050" shape-rendering="crispEdges"/>
<rect x="856" y="16" width="1" height="1" fill="#505050" shape-rendering="crispEdges"/>
<rect x="867" y="16" width="1" height="1" fill="#505050" shape-rendering="crispEdges"/>
<rect x="856" y="18" width="1" height="1" fill="#505050" shape-rendering="crispEdges"/>
<rect x="867" y="18" width="1" height="1" fill="#505050" shape-rendering="crispEdges"/>
<rect x="855" y="5" width="2" height="1" fill="#505050" shape-rendering="crispEdges"/>
<text x="857.9" y="17" font-size="11.6" fill="#585858" stroke="#585858" stroke-width="0.6">T</text>
<g fill="#505050"><path d="M886.5,5.8 L890.2,9.4 L888.8,10.5 L884.2,10.5 L882.8,9.4 Z"/><path d="M893.8,19 L897.4,15.3 L896,14.1 L891.6,14.1 L890.2,15.3 Z"/><path d="M884.6,13.2 L887,15.4 L891.8,10" fill="none" stroke="#505050" stroke-width="1.3"/></g>
<path d="M904,11 h5 l-2.5,3 z" fill="#000" shape-rendering="crispEdges"/>
<rect x="915" y="0" width="1" height="24" fill="#a0a0a0" shape-rendering="crispEdges"/>
<rect x="916" y="0" width="1" height="24" fill="#fff" shape-rendering="crispEdges"/>
<rect x="919" y="2" width="3" height="1" fill="#a0a0a0" shape-rendering="crispEdges"/>
<rect x="919" y="4" width="3" height="1" fill="#a0a0a0" shape-rendering="crispEdges"/>
<rect x="919" y="6" width="3" height="1" fill="#a0a0a0" shape-rendering="crispEdges"/>
<rect x="919" y="8" width="3" height="1" fill="#a0a0a0" shape-rendering="crispEdges"/>
<rect x="919" y="10" width="3" height="1" fill="#a0a0a0" shape-rendering="crispEdges"/>
<rect x="919" y="12" width="3" height="1" fill="#a0a0a0" shape-rendering="crispEdges"/>
<rect x="919" y="14" width="3" height="1" fill="#a0a0a0" shape-rendering="crispEdges"/>
<rect x="919" y="16" width="3" height="1" fill="#a0a0a0" shape-rendering="crispEdges"/>
<rect x="919" y="18" width="3" height="1" fill="#a0a0a0" shape-rendering="crispEdges"/>
<rect x="919" y="20" width="3" height="1" fill="#a0a0a0" shape-rendering="crispEdges"/>
<rect x="1066" y="1" width="24" height="21" fill="url(#ck)" shape-rendering="crispEdges"/>
<rect x="1065" y="0" width="25" height="1" fill="#a0a0a0" shape-rendering="crispEdges"/>
<rect x="1065" y="0" width="1" height="22" fill="#a0a0a0" shape-rendering="crispEdges"/>
<rect x="1090" y="0" width="1" height="23" fill="#fff" shape-rendering="crispEdges"/>
<rect x="1065" y="22" width="26" height="1" fill="#fff" shape-rendering="crispEdges"/>
<text x="937" y="16" font-size="9.7" fill="#383838" text-anchor="middle">M1</text>
<text x="965" y="16" font-size="9.7" fill="#383838" text-anchor="middle">M5</text>
<text x="993" y="16" font-size="9.7" fill="#383838" text-anchor="middle">M15</text>
<text x="1021" y="16" font-size="9.7" fill="#383838" text-anchor="middle">M30</text>
<text x="1049" y="16" font-size="9.7" fill="#383838" text-anchor="middle">H1</text>
<text x="1077" y="16" font-size="9.7" fill="#383838" text-anchor="middle">H4</text>
<text x="1105" y="16" font-size="9.7" fill="#383838" text-anchor="middle">D1</text>
<text x="1133" y="16" font-size="9.7" fill="#383838" text-anchor="middle">W1</text>
<text x="1161" y="16" font-size="9.7" fill="#383838" text-anchor="middle">MN</text>
<rect x="1176" y="0" width="1" height="24" fill="#a0a0a0" shape-rendering="crispEdges"/>
<rect x="1177" y="0" width="1" height="24" fill="#fff" shape-rendering="crispEdges"/>
<g><path d="M1643.2,12.6 L1639,16.8" stroke="#2858d0" stroke-width="2.6" stroke-linecap="round"/><circle cx="1646.4" cy="9.6" r="3.9" fill="#f4f4ff" stroke="#2858d0" stroke-width="1.3"/></g>
<g><path d="M1665.4,17.2 L1666.3,20.7 L1668.6,18.3 Z" fill="#c0c0c8" stroke="#a0a0a0" stroke-width="0.7"/><ellipse cx="1669" cy="13.9" rx="6" ry="4.7" fill="url(#bub)" stroke="#a8a8a8" stroke-width="0.8"/><circle cx="1677.4" cy="9.1" r="8.3" fill="url(#bdg)"/></g>
<text x="1673.4" y="13.9" font-size="13.4" fill="#fff" stroke="#fff" stroke-width="0.3" style="font-family:'Liberation Serif',serif">1</text>
</svg>
</body></html>
